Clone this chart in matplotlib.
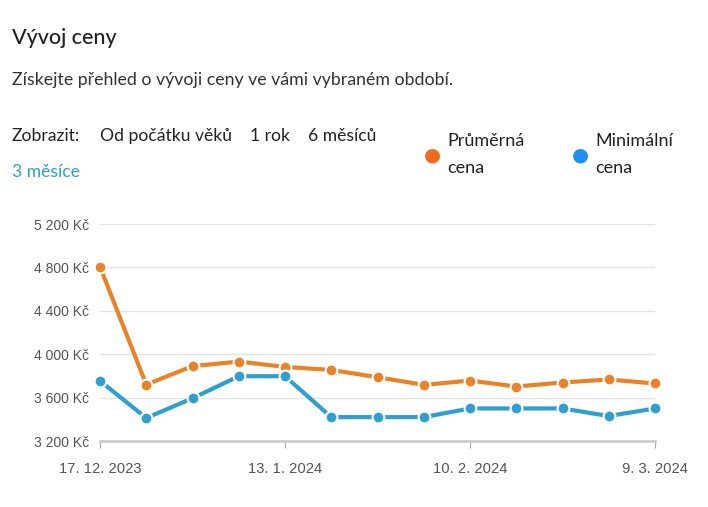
import matplotlib
matplotlib.use("Agg")
import matplotlib.pyplot as plt

# týdenní body, popisky jen u každého čtvrtého
tick_idx = [0, 4, 8, 12]
tick_labels = ["17. 12. 2023", "13. 1. 2024", "10. 2. 2024", "9. 3. 2024"]
prumerna = [4805, 3720, 3890, 3932, 3883, 3855, 3788, 3717, 3757, 3702, 3739, 3767, 3730]
minimalni = [3754, 3412, 3594, 3797, 3797, 3420, 3420, 3420, 3500, 3500, 3500, 3430, 3500]
y_ticks = [3200, 3600, 4000, 4400, 4800, 5200]

ui_font = ["Lato", "DejaVu Sans"]
c_orange = "#E8832A"
c_blue = "#2E9FCF"
fs = 12.6

fig = plt.figure(figsize=(7.08, 5.07), dpi=100)
W, H = 708, 507

def fx(px):
    return px / W

def fy(py):
    return 1 - py / H

fig.text(fx(12), fy(38), "Vývoj ceny", fontsize=15.5, family=ui_font,
         color="#222222", va="center", fontweight="medium")
fig.text(fx(12), fy(80), "Získejte přehled o vývoji ceny ve vámi vybraném období.",
         fontsize=fs + 0.2, family=ui_font, color="#333333", va="center")
fig.text(fx(12), fy(136), "Zobrazit:", fontsize=fs, family=ui_font, color="#222222", va="center")
fig.text(fx(100), fy(136), "Od počátku věků", fontsize=fs, family=ui_font, color="#222222", va="center")
fig.text(fx(250), fy(136), "1 rok", fontsize=fs, family=ui_font, color="#222222", va="center")
fig.text(fx(308), fy(136), "6 měsíců", fontsize=fs, family=ui_font, color="#222222", va="center")
fig.text(fx(12), fy(172), "3 měsíce", fontsize=fs, family=ui_font, color="#2A9FD6", va="center")

# legenda
for cx, col, l1, l2 in [(432, "#F26B1D", "Průměrná", "cena"), (580, "#1D90F0", "Minimální", "cena")]:
    fig.text(fx(cx), fy(155), "\u25CF", fontsize=14, color=col, ha="center", va="center",
             family="DejaVu Sans")
    fig.text(fx(cx + 15), fy(141), l1, fontsize=fs + 0.4, family=ui_font, color="#222222", va="center")
    fig.text(fx(cx + 15), fy(168), l2, fontsize=fs + 0.4, family=ui_font, color="#222222", va="center")

ax = fig.add_axes([fx(100), fy(441), fx(655) - fx(100), fy(224) - fy(441)])
x = list(range(len(prumerna)))
ax.plot(x, prumerna, color=c_orange, lw=3, marker="o", ms=8.5,
        markeredgecolor="white", markeredgewidth=1.5, clip_on=False, zorder=3)
ax.plot(x, minimalni, color=c_blue, lw=3, marker="o", ms=8.5,
        markeredgecolor="white", markeredgewidth=1.5, clip_on=False, zorder=3)

ax.set_xlim(0, len(prumerna) - 1)
ax.set_ylim(3200, 5200)
ax.set_yticks(y_ticks)
ax.set_yticklabels([f"{v:,}".replace(",", " ") + " Kč" for v in y_ticks],
                   fontsize=10, color="#555555", family="Liberation Sans")
ax.set_xticks(tick_idx)
ax.set_xticklabels(tick_labels, fontsize=10.6, color="#555555", family="Liberation Sans")
ax.tick_params(axis="y", length=0, pad=8)
ax.tick_params(axis="x", length=5, color="#aaaaaa", pad=10)
ax.grid(axis="y", color="#e3e3e3", lw=1)
for s in ["top", "right", "left"]:
    ax.spines[s].set_visible(False)
ax.spines["bottom"].set_color("#cccccc")
ax.spines["bottom"].set_linewidth(2)
ax.set_axisbelow(True)

fig.savefig("out.png", dpi=100)
